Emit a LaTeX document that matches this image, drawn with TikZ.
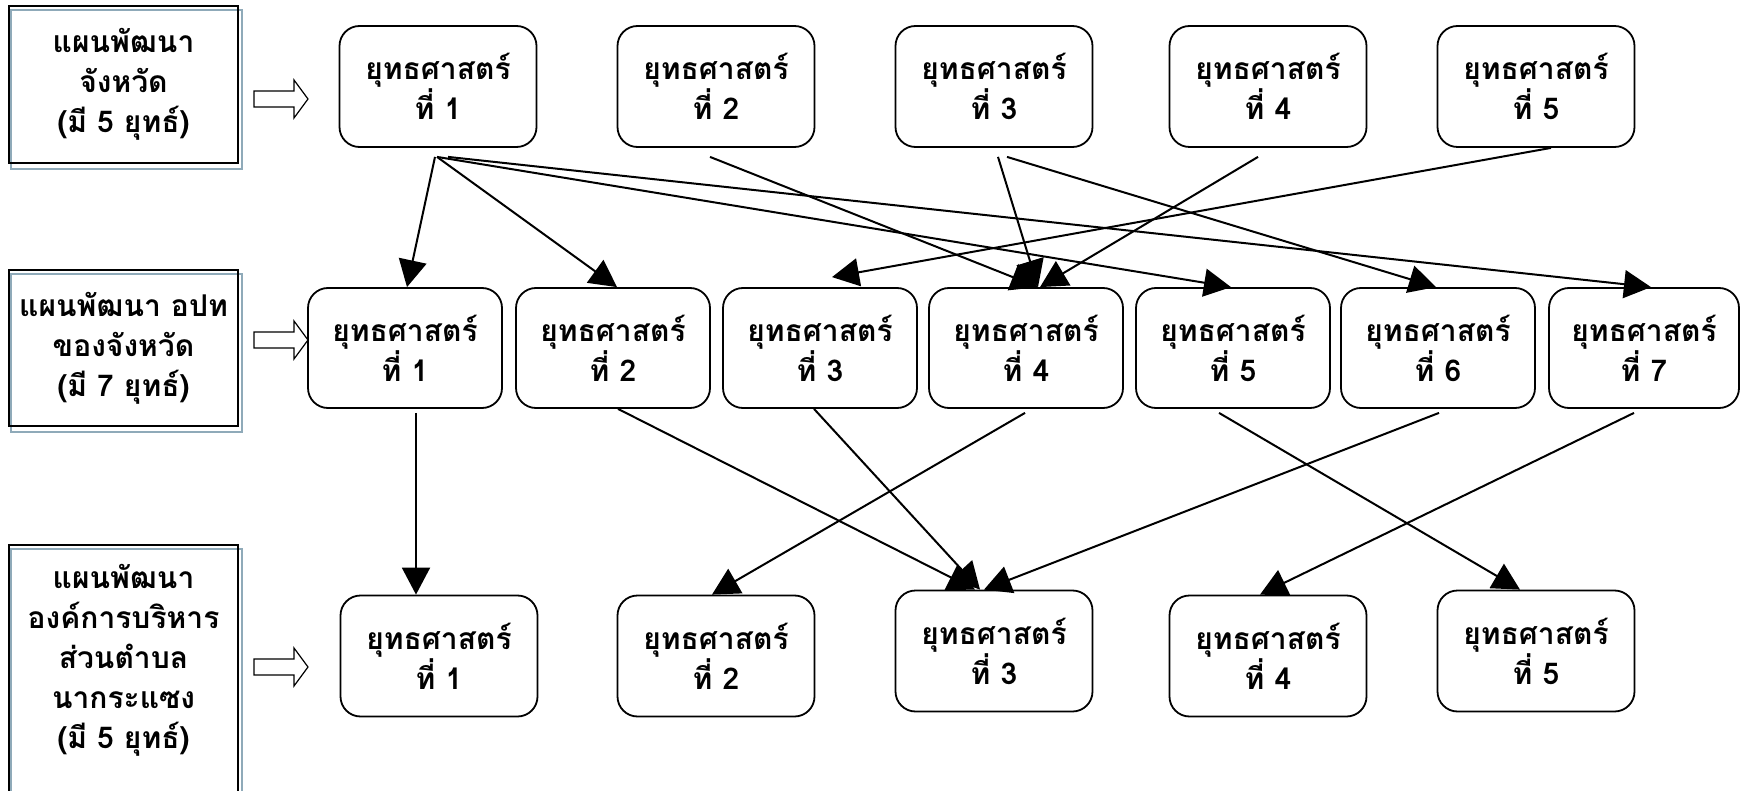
\documentclass[tikz,border=0pt]{standalone}
\usepackage{fontspec}
\newfontfamily\thaifont[Script=Thai]{Loma}
\usetikzlibrary{arrows.meta,backgrounds}
\definecolor{shadowgrey}{RGB}{143,170,185}
\begin{document}
\begin{tikzpicture}[x=0.5pt,y=0.5pt]
\tikzstyle{every node}+=[font=\thaifont\bfseries\fontsize{15pt}{20pt}\selectfont, align=center, inner sep=0pt]
\tikzstyle{planbox}=[draw=black, line width=1.4pt, minimum width=114.5pt]
\tikzstyle{stratbox}=[draw=black, line width=0.9pt, rounded corners=10pt, minimum width=98.5pt, minimum height=60.5pt]
\tikzstyle{midbox}=[stratbox, minimum width=97pt, minimum height=60pt]
\tikzstyle{link}=[black, line width=1pt, -{Triangle[length=13.5pt,width=14pt]}]
\tikzstyle{shadowline}=[shadowgrey, line width=1pt]
\tikzstyle{hollow}=[black, line width=0.6pt]
\useasboundingbox (0,0) rectangle (1740,-791);
\node (plana) [planbox, minimum height=78.5pt] at (123.5,-84.5) {แผนพัฒนา\\จังหวัด\\(มี 5 ยุทธ์)};
\node (planb) [planbox, minimum height=78pt] at (123.5,-348) {แผนพัฒนา อปท\\ของจังหวัด\\(มี 7 ยุทธ์)};
\node (planc) [planbox, minimum height=130pt] at (123.5,-675) {};
\node (planctext) at (123.5,-660) {แผนพัฒนา\\องค์การบริหาร\\ส่วนตำบล\\นากระแซง\\(มี 5 ยุทธ์)};
\begin{scope}[on background layer]
\draw [shadowline] ([shift={(3,-5)}]plana.south west) rectangle ([shift={(3,-5)}]plana.north east);
\draw [shadowline] ([shift={(3,-5)}]planb.south west) rectangle ([shift={(3,-5)}]planb.north east);
\draw [shadowline] ([shift={(3,-5)}]planc.south west) rectangle ([shift={(3,-5)}]planc.north east);
\end{scope}
\coordinate (arra) at (254,-99);
\coordinate (arrb) at (254,-340);
\coordinate (arrc) at (254,-667);
\foreach \a in {arra,arrb,arrc}
  \draw [hollow] ([shift={(0,8)}]\a) -- ++(40,0) -- ++(0,11) -- ++(14,-19) -- ++(-14,-19) -- ++(0,11) -- ++(-40,0) -- cycle;
\node (r1a) [stratbox] at (438,-86.5) {ยุทธศาสตร์\\ที่ 1};
\node (r1b) [stratbox] at (716,-86.5) {ยุทธศาสตร์\\ที่ 2};
\node (r1c) [stratbox] at (994,-86.5) {ยุทธศาสตร์\\ที่ 3};
\node (r1d) [stratbox] at (1268,-86.5) {ยุทธศาสตร์\\ที่ 4};
\node (r1e) [stratbox] at (1536,-86.5) {ยุทธศาสตร์\\ที่ 5};
\node (r2a) [midbox] at (405,-348) {ยุทธศาสตร์\\ที่ 1};
\node (r2b) [midbox] at (613,-348) {ยุทธศาสตร์\\ที่ 2};
\node (r2c) [midbox] at (820,-348) {ยุทธศาสตร์\\ที่ 3};
\node (r2d) [midbox] at (1026,-348) {ยุทธศาสตร์\\ที่ 4};
\node (r2e) [midbox] at (1233,-348) {ยุทธศาสตร์\\ที่ 5};
\node (r2f) [midbox] at (1438,-348) {ยุทธศาสตร์\\ที่ 6};
\node (r2g) [midbox, minimum width=95pt] at (1644,-348) {ยุทธศาสตร์\\ที่ 7};
\node (r3a) [stratbox] at (439,-656) {ยุทธศาสตร์\\ที่ 1};
\node (r3b) [stratbox] at (716,-656) {ยุทธศาสตร์\\ที่ 2};
\node (r3c) [stratbox] at (994,-651) {ยุทธศาสตร์\\ที่ 3};
\node (r3d) [stratbox] at (1268,-656) {ยุทธศาสตร์\\ที่ 4};
\node (r3e) [stratbox] at (1536,-651) {ยุทธศาสตร์\\ที่ 5};
\draw [link] ([shift={(-3,-9)}]r1a.south) -- ([shift={(2,0)}]r2a.north);
\draw [link] ([shift={(-1,-9)}]r1a.south) -- ([shift={(4,0)}]r2b.north);
\draw [link] ([shift={(-1,-9)}]r1a.south) -- ([shift={(-2,0)}]r2e.north);
\draw [link] ([shift={(10,-9)}]r1a.south) -- ([shift={(7,0)}]r2g.north);
\draw [link] ([shift={(-6,-9)}]r1b.south) -- ([shift={(12,0)}]r2d.north);
\draw [link] ([shift={(4,-9)}]r1c.south) -- ([shift={(12,0)}]r2d.north);
\draw [link] ([shift={(13,-9)}]r1c.south) -- ([shift={(-2,0)}]r2f.north);
\draw [link] ([shift={(-10,-9)}]r1d.south) -- ([shift={(14,0)}]r2d.north);
\draw [link] ([shift={(15,0)}]r1e.south) -- ([shift={(12,10)}]r2c.north);
\draw [link] ([shift={(11,-4)}]r2a.south) -- ([shift={(-23,0)}]r3a.north);
\draw [link] ([shift={(5,0)}]r2b.south) -- ([shift={(-19,0)}]r3c.north);
\draw [link] ([shift={(-6,0)}]r2c.south) -- ([shift={(-14,0)}]r3c.north);
\draw [link] ([shift={(-1,-4)}]r2d.south) -- ([shift={(-4,0)}]r3b.north);
\draw [link] ([shift={(1,-4)}]r2f.south) -- ([shift={(-10,0)}]r3c.north);
\draw [link] ([shift={(-14,-4)}]r2e.south) -- ([shift={(-16,0)}]r3e.north);
\draw [link] ([shift={(-10,-4)}]r2g.south) -- ([shift={(-8,0)}]r3d.north);
\end{tikzpicture}
\end{document}
